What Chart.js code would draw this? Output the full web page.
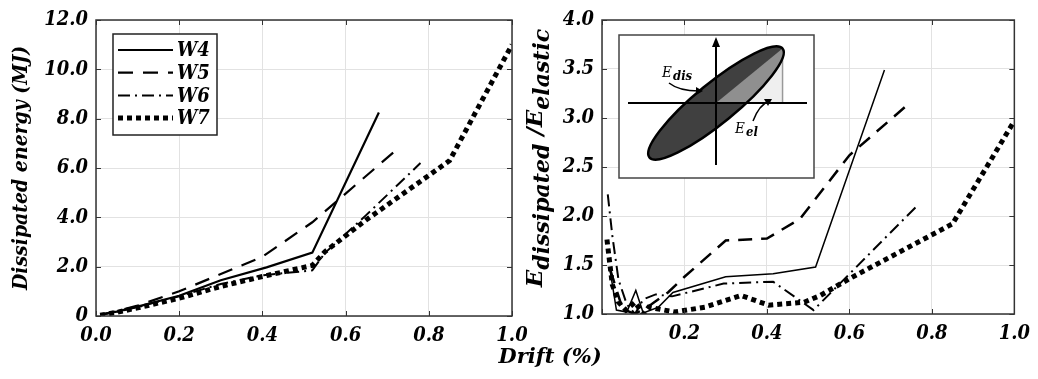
<!DOCTYPE html>
<html>
<head>
<meta charset="utf-8">
<script src="https://cdn.jsdelivr.net/npm/chart.js@4.4.0/dist/chart.umd.min.js"></script>
<style>
  html, body { margin: 0; padding: 0; background: #fff; }
  #wrap { position: relative; width: 1038px; height: 379px; overflow: hidden; }
  #left { position: absolute; left: 0; top: 0; }
  #right { position: absolute; left: 520px; top: 0; }
  #drift { position: absolute; left: 550px; top: 343px; transform: translateX(-50%);
           font: italic bold 21px 'DejaVu Serif', serif; white-space: nowrap; }
</style>
</head>
<body>
<div id="wrap">
  <canvas id="left" width="540" height="379"></canvas>
  <canvas id="right" width="518" height="379"></canvas>
  <div id="drift">Drift (%)</div>
</div>
<script>
// left panel: dissipated energy (MJ) against drift (%)
const driftW4 = [0.01, 0.05, 0.1, 0.2, 0.3, 0.41, 0.52, 0.68];
const energyW4 = [0.05, 0.18, 0.38, 0.82, 1.45, 1.97, 2.57, 8.25];
const driftW5 = [0.01, 0.05, 0.1, 0.2, 0.3, 0.4, 0.52, 0.73];
const energyW5 = [0.05, 0.2, 0.42, 1.0, 1.7, 2.4, 3.8, 6.85];
const driftW6 = [0.01, 0.05, 0.1, 0.2, 0.3, 0.4, 0.52, 0.55, 0.65, 0.78];
const energyW6 = [0.05, 0.17, 0.36, 0.8, 1.3, 1.65, 1.85, 2.55, 4.1, 6.2];
const driftW7 = [0.01, 0.05, 0.1, 0.2, 0.3, 0.4, 0.52, 0.55, 0.65, 0.85, 1.0];
const energyW7 = [0.03, 0.15, 0.33, 0.72, 1.2, 1.6, 2.05, 2.6, 3.9, 6.3, 11.0];

// right panel: E dissipated / E elastic against drift (%)
const rDriftW4 = [0.019, 0.035, 0.06, 0.082, 0.1, 0.137, 0.172, 0.3, 0.415, 0.518, 0.685];
const ratioW4 = [1.46, 1.04, 1.02, 1.24, 1.01, 1.07, 1.22, 1.38, 1.41, 1.48, 3.49];
const rDriftW5 = [0.02, 0.05, 0.08, 0.12, 0.16, 0.2, 0.3, 0.4, 0.48, 0.6, 0.737];
const ratioW5 = [1.45, 1.05, 1.0, 1.1, 1.22, 1.38, 1.75, 1.77, 1.97, 2.62, 3.12];
const rDriftW6 = [0.014, 0.025, 0.04, 0.06, 0.08, 0.1, 0.13, 0.17, 0.295, 0.415, 0.513, 0.768];
const ratioW6 = [2.22, 1.8, 1.35, 1.1, 1.0, 1.15, 1.2, 1.18, 1.31, 1.33, 1.04, 2.12];
const rDriftW7 = [0.012, 0.025, 0.04, 0.058, 0.08, 0.1, 0.113, 0.176, 0.25, 0.337, 0.404, 0.49, 0.53, 0.6, 0.85, 0.997];
const ratioW7 = [1.76, 1.3, 1.12, 1.04, 1.12, 1.0, 1.07, 1.02, 1.07, 1.19, 1.09, 1.12, 1.19, 1.36, 1.92, 2.95];

const energyTicks = [0, 2, 4, 6, 8, 10, 12];
const ratioTicks = [1, 1.5, 2, 2.5, 3, 3.5, 4];
const seriesNames = ['W4', 'W5', 'W6', 'W7'];

const serif = "'DejaVu Serif Condensed', 'DejaVu Serif', serif";
const wideSerif = "'DejaVu Serif', serif";
const tickFont = { family: serif, size: 20, style: 'italic', weight: 'bold' };
const gridColor = '#e2e2e2';

function pts(xs, ys) {
  return xs.map((x, i) => ({ x: x, y: ys[i] }));
}

function line(label, data, width, dash) {
  return {
    label: label, data: data, borderColor: '#000', backgroundColor: '#000',
    borderWidth: width, borderDash: dash, borderCapStyle: 'butt',
    pointRadius: 0, showLine: true, fill: false, tension: 0
  };
}

// box round the plot with small inward ticks on every side
const framePlugin = {
  id: 'frame',
  afterDatasetsDraw(chart) {
    const { ctx, chartArea: a, scales } = chart;
    ctx.save();
    ctx.strokeStyle = '#333';
    ctx.lineWidth = 1;
    ctx.beginPath();
    scales.x.ticks.forEach(t => {
      const px = Math.round(scales.x.getPixelForValue(t.value)) + 0.5;
      ctx.moveTo(px, a.bottom); ctx.lineTo(px, a.bottom - 5);
      ctx.moveTo(px, a.top); ctx.lineTo(px, a.top + 5);
    });
    scales.y.ticks.forEach(t => {
      const py = Math.round(scales.y.getPixelForValue(t.value)) + 0.5;
      ctx.moveTo(a.left, py); ctx.lineTo(a.left + 5, py);
      ctx.moveTo(a.right, py); ctx.lineTo(a.right - 5, py);
    });
    ctx.stroke();
    ctx.lineWidth = 1.5;
    ctx.strokeRect(a.left, a.top, a.right - a.left, a.bottom - a.top);
    ctx.restore();
  }
};

// legend drawn inside the left plot
const boxLegend = {
  id: 'boxLegend',
  afterDraw(chart) {
    const { ctx, chartArea: a } = chart;
    const x0 = a.left + 17, y0 = a.top + 14, w = 104, h = 101;
    ctx.save();
    ctx.fillStyle = '#fff';
    ctx.fillRect(x0, y0, w, h);
    ctx.strokeStyle = '#222';
    ctx.lineWidth = 1.5;
    ctx.strokeRect(x0, y0, w, h);
    chart.data.datasets.forEach((ds, i) => {
      const y = y0 + 16 + i * 22.7;
      ctx.strokeStyle = '#000';
      ctx.lineWidth = ds.borderWidth;
      ctx.lineCap = 'butt';
      ctx.setLineDash(ds.borderDash);
      ctx.beginPath();
      ctx.moveTo(x0 + 5, y);
      ctx.lineTo(x0 + 60, y);
      ctx.stroke();
      ctx.setLineDash([]);
      ctx.fillStyle = '#000';
      ctx.font = 'italic bold 20px ' + serif;
      ctx.textBaseline = 'middle';
      ctx.fillText(ds.label, x0 + 64, y + 1);
    });
    ctx.restore();
  }
};

function drawInset(ctx, a) {
  const x0 = a.left + 17, y0 = a.top + 15, w = 195, h = 143;
  ctx.save();
  ctx.fillStyle = '#fff';
  ctx.fillRect(x0, y0, w, h);
  ctx.strokeStyle = '#444';
  ctx.lineWidth = 1.5;
  ctx.strokeRect(x0, y0, w, h);
  const cx = x0 + 97, cy = y0 + 68;
  const ang = 39.3 * Math.PI / 180, ra = 86, rb = 20;
  const tipX = cx + ra * Math.cos(ang), tipY = cy - ra * Math.sin(ang);
  // elastic triangle
  ctx.fillStyle = '#efefef';
  ctx.beginPath();
  ctx.moveTo(cx, cy); ctx.lineTo(tipX, tipY); ctx.lineTo(tipX, cy);
  ctx.closePath(); ctx.fill();
  ctx.strokeStyle = '#999';
  ctx.beginPath(); ctx.moveTo(tipX, tipY); ctx.lineTo(tipX, cy); ctx.stroke();
  // hysteresis loop
  ctx.beginPath();
  ctx.ellipse(cx, cy, ra, rb, -ang, 0, Math.PI * 2);
  ctx.fillStyle = '#404040';
  ctx.fill();
  ctx.save();
  ctx.clip();
  ctx.fillStyle = '#8f8f8f';
  ctx.beginPath();
  ctx.moveTo(cx, cy); ctx.lineTo(tipX, tipY); ctx.lineTo(tipX + 20, tipY); ctx.lineTo(tipX + 20, cy);
  ctx.closePath(); ctx.fill();
  ctx.restore();
  ctx.beginPath();
  ctx.ellipse(cx, cy, ra, rb, -ang, 0, Math.PI * 2);
  ctx.strokeStyle = '#000';
  ctx.lineWidth = 2.5;
  ctx.stroke();
  // axes
  ctx.lineWidth = 2;
  ctx.beginPath();
  ctx.moveTo(x0 + 9, cy); ctx.lineTo(x0 + 188, cy);
  ctx.moveTo(cx, y0 + 130); ctx.lineTo(cx, y0 + 8);
  ctx.stroke();
  ctx.fillStyle = '#000';
  ctx.beginPath();
  ctx.moveTo(cx, y0 + 2); ctx.lineTo(cx - 4, y0 + 12); ctx.lineTo(cx + 4, y0 + 12);
  ctx.closePath(); ctx.fill();
  // labels with curved arrows
  ctx.font = 'italic 15px ' + serif;
  ctx.fillText('E', x0 + 43, y0 + 42);
  ctx.fillText('E', x0 + 116, y0 + 98);
  ctx.font = 'italic bold 13px ' + serif;
  ctx.fillText('dis', x0 + 54, y0 + 45);
  ctx.fillText('el', x0 + 127, y0 + 101);
  ctx.lineWidth = 1.5;
  ctx.beginPath();
  ctx.moveTo(x0 + 50, y0 + 48);
  ctx.quadraticCurveTo(x0 + 60, y0 + 56, x0 + 80, y0 + 56);
  ctx.moveTo(x0 + 134, y0 + 86);
  ctx.quadraticCurveTo(x0 + 140, y0 + 70, x0 + 150, y0 + 66);
  ctx.stroke();
  ctx.beginPath();
  ctx.moveTo(x0 + 84, y0 + 56); ctx.lineTo(x0 + 77, y0 + 52); ctx.lineTo(x0 + 77, y0 + 60);
  ctx.closePath(); ctx.fill();
  ctx.beginPath();
  ctx.moveTo(x0 + 153, y0 + 64); ctx.lineTo(x0 + 145, y0 + 64); ctx.lineTo(x0 + 149, y0 + 71);
  ctx.closePath(); ctx.fill();
  ctx.restore();
}

function drawRatioTitle(ctx, x, yMid) {
  const main = 'italic bold 23px ' + wideSerif;
  const sub = 'italic bold 22px ' + wideSerif;
  const parts = [['E', main, 0], ['dissipated', sub, 7], [' /E', main, 0], ['elastic', sub, 7]];
  ctx.save();
  let total = 0;
  parts.forEach(p => { ctx.font = p[1]; total += ctx.measureText(p[0]).width; });
  ctx.translate(x, yMid + total / 2);
  ctx.rotate(-Math.PI / 2);
  ctx.fillStyle = '#000';
  ctx.textBaseline = 'alphabetic';
  let off = 0;
  parts.forEach(p => {
    ctx.font = p[1];
    ctx.fillText(p[0], off, p[2]);
    off += ctx.measureText(p[0]).width;
  });
  ctx.restore();
}

const insetPlugin = {
  id: 'inset',
  afterDraw(chart) {
    drawInset(chart.ctx, chart.chartArea);
    drawRatioTitle(chart.ctx, 22, 158);
  }
};

new Chart(document.getElementById('left'), {
  type: 'scatter',
  data: {
    datasets: [
      line(seriesNames[0], pts(driftW4, energyW4), 2.2, []),
      line(seriesNames[1], pts(driftW5, energyW5), 2.2, [15, 10]),
      line(seriesNames[2], pts(driftW6, energyW6), 2, [12, 5, 2, 5]),
      line(seriesNames[3], pts(driftW7, energyW7), 5, [5, 4])
    ]
  },
  options: {
    responsive: false,
    animation: false,
    layout: { padding: { top: 16, right: 28, bottom: 0, left: 0 } },
    plugins: { legend: { display: false }, tooltip: { enabled: false } },
    scales: {
      x: {
        type: 'linear', min: 0, max: 1,
        afterFit: s => { s.height = 63; },
        grid: { color: gridColor, drawTicks: false },
        border: { display: false },
        ticks: { stepSize: 0.2, padding: 8, color: '#000', font: tickFont, maxRotation: 0,
                 callback: v => v.toFixed(1) }
      },
      y: {
        min: 0, max: 12,
        afterFit: s => { s.width = 96; },
        afterBuildTicks: s => { s.ticks = energyTicks.map(v => ({ value: v })); },
        grid: { color: gridColor, drawTicks: false },
        border: { display: false },
        ticks: { padding: 8, color: '#000', font: tickFont,
                 callback: v => v === 0 ? '0' : v.toFixed(1) },
        title: { display: true, text: 'Dissipated energy (MJ)', color: '#000',
                 font: { family: serif, size: 21, style: 'italic', weight: 'bold' },
                 padding: { top: 9, bottom: 0 } }
      }
    }
  },
  plugins: [framePlugin, boxLegend]
});

new Chart(document.getElementById('right'), {
  type: 'scatter',
  data: {
    datasets: [
      line(seriesNames[0], pts(rDriftW4, ratioW4), 1.5, []),
      line(seriesNames[1], pts(rDriftW5, ratioW5), 2.5, [14, 9]),
      line(seriesNames[2], pts(rDriftW6, ratioW6), 2, [12, 5, 2, 5]),
      line(seriesNames[3], pts(rDriftW7, ratioW7), 5, [5, 4])
    ]
  },
  options: {
    responsive: false,
    animation: false,
    layout: { padding: { top: 15, right: 11, bottom: 0, left: 0 } },
    plugins: { legend: { display: false }, tooltip: { enabled: false } },
    scales: {
      x: {
        type: 'linear', min: 0, max: 1,
        afterFit: s => { s.height = 65; },
        grid: { color: gridColor, drawTicks: false },
        border: { display: false },
        ticks: { stepSize: 0.2, padding: 8, color: '#000', font: tickFont, maxRotation: 0,
                 callback: v => v === 0 ? '' : v.toFixed(1) }
      },
      y: {
        min: 1, max: 4,
        afterFit: s => { s.width = 82; },
        afterBuildTicks: s => { s.ticks = ratioTicks.map(v => ({ value: v })); },
        grid: { color: gridColor, drawTicks: false },
        border: { display: false },
        ticks: { padding: 8, color: '#000', font: tickFont, callback: v => v.toFixed(1) }
      }
    }
  },
  plugins: [framePlugin, insetPlugin]
});
</script>
</body>
</html>
